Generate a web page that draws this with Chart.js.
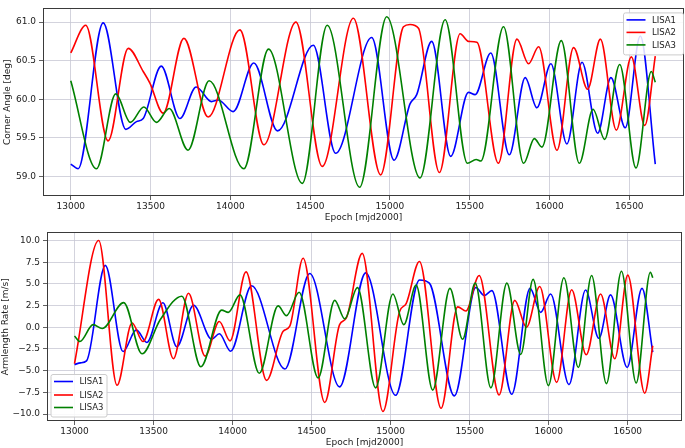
<!DOCTYPE html>
<html>
<head>
<meta charset="utf-8">
<script src="https://cdn.jsdelivr.net/npm/chart.js@4.4.0/dist/chart.umd.min.js"></script>
<style>
  body { margin: 0; background: #fff; overflow: hidden; }
  canvas { position: absolute; left: 0; }
  #angleChart { top: 0; }
  #rateChart { top: 224px; }
</style>
</head>
<body>
<canvas id="angleChart" width="685" height="224"></canvas>
<canvas id="rateChart" width="685" height="224"></canvas>
<script>
// series names and tick labels
const seriesNames = ["LISA1", "LISA2", "LISA3"];
const seriesColors = ["#0000ff", "#ff0000", "#008000"];
const epochTicks = [13000, 13500, 14000, 14500, 15000, 15500, 16000, 16500];
const angleTicks = [59.0, 59.5, 60.0, 60.5, 61.0];
const rateTicks = [-10, -7.5, -5, -2.5, 0, 2.5, 5, 7.5, 10];

// Corner angle [deg]
const angleEpoch1 = [13000, 13046, 13203, 13345, 13412, 13454, 13567, 13684, 13786, 13882, 13924, 14018, 14147, 14296, 14520, 14660, 14886, 15026, 15126, 15168, 15262, 15381, 15492, 15534, 15632, 15748, 15848, 15921, 16009, 16109, 16204, 16302, 16385, 16475, 16569, 16663];
const angle1 = [59.16, 59.10, 60.99, 59.61, 59.71, 59.75, 60.43, 59.75, 60.16, 59.97, 59.99, 59.84, 60.47, 59.59, 60.70, 59.30, 60.80, 59.21, 59.94, 60.06, 60.75, 59.26, 60.09, 60.06, 60.60, 59.28, 60.28, 59.89, 60.46, 59.42, 60.48, 59.56, 60.28, 59.63, 60.82, 59.16];

const angleEpoch2 = [13000, 13094, 13234, 13360, 13454, 13496, 13579, 13709, 13861, 14060, 14210, 14411, 14576, 14771, 14942, 15085, 15126, 15179, 15310, 15440, 15492, 15545, 15680, 15796, 15869, 15932, 16047, 16151, 16239, 16319, 16419, 16513, 16597, 16663];
const angle2 = [60.60, 60.96, 59.46, 60.66, 60.36, 60.21, 59.82, 60.79, 59.77, 60.90, 59.41, 61.00, 59.13, 61.05, 59.02, 60.94, 60.97, 60.92, 59.05, 60.85, 60.75, 60.74, 59.17, 60.78, 60.46, 60.68, 59.34, 60.67, 60.13, 60.78, 59.60, 60.55, 59.66, 60.56];

const angleEpoch3 = [13000, 13161, 13282, 13374, 13458, 13537, 13617, 13735, 13867, 14085, 14239, 14451, 14607, 14810, 14980, 15189, 15346, 15486, 15540, 15570, 15712, 15838, 15905, 15953, 16074, 16187, 16273, 16346, 16440, 16542, 16638, 16663];
const angle3 = [60.24, 59.10, 60.07, 59.70, 59.90, 59.70, 59.88, 59.34, 60.24, 59.10, 60.65, 58.91, 60.96, 58.86, 61.07, 58.98, 61.03, 59.17, 59.22, 59.20, 60.94, 59.17, 59.49, 59.38, 60.76, 59.17, 59.87, 59.48, 60.45, 59.11, 60.36, 60.22];

// Armlength rate [m/s]
const rateEpoch1 = [13000, 13038, 13076, 13195, 13307, 13391, 13458, 13559, 13647, 13753, 13868, 13916, 13988, 14120, 14331, 14488, 14677, 14842, 15031, 15182, 15245, 15403, 15539, 15592, 15640, 15766, 15882, 15949, 16012, 16128, 16233, 16317, 16391, 16496, 16590, 16658];
const rate1 = [-4.29, -4.10, -3.88, 7.13, -2.80, -0.30, -1.75, 2.83, -2.24, 2.54, -1.38, -0.75, -2.76, 4.78, -4.81, 6.19, -6.87, 6.27, -7.84, 5.45, 5.08, -7.91, 4.59, 3.66, 4.22, -7.71, 4.48, 1.72, 3.84, -6.61, 4.29, -1.27, 3.73, -4.63, 4.48, -2.87];

const rateEpoch2 = [13000, 13153, 13269, 13364, 13433, 13532, 13626, 13721, 13826, 13916, 13984, 14085, 14215, 14320, 14362, 14446, 14583, 14677, 14719, 14820, 14951, 15056, 15098, 15182, 15319, 15424, 15476, 15560, 15686, 15785, 15859, 15943, 16050, 16145, 16237, 16328, 16418, 16500, 16607, 16658];
const rate2 = [-4.18, 10.0, -6.68, 0.49, -1.64, 3.21, -3.62, 3.92, -3.32, 0.67, -1.57, 6.38, -6.12, -0.45, 0.12, 7.95, -8.66, 0.30, 1.05, 8.51, -9.70, 1.79, 2.73, 7.58, -9.33, 2.35, 1.87, 5.97, -7.80, 3.10, 0.00, 4.70, -6.35, 4.33, -3.17, 3.84, -3.62, 6.01, -7.60, -2.13];

const rateEpoch3 = [13000, 13034, 13118, 13175, 13311, 13427, 13542, 13679, 13799, 13931, 13973, 14047, 14169, 14288, 14341, 14421, 14541, 14646, 14709, 14790, 14905, 15014, 15083, 15161, 15266, 15375, 15455, 15535, 15634, 15735, 15823, 15901, 15998, 16096, 16187, 16271, 16365, 16460, 16553, 16643, 16658];
const rate3 = [-1.00, -1.64, 0.30, -0.15, 2.84, -3.06, 0.86, 3.58, -4.55, 1.98, 1.72, 3.73, -5.30, 2.46, 1.34, 4.03, -5.83, 3.10, 0.97, 4.57, -6.98, 3.84, 0.30, 4.85, -7.24, 4.48, -1.38, 5.08, -6.98, 5.08, -3.13, 5.52, -6.72, 5.71, -4.63, 5.97, -6.49, 6.46, -6.42, 6.34, 5.71];

const FONT = "DejaVu Sans";
const TEXT = "#222";

function zip(xs, ys) {
  return xs.map((x, i) => ({ x: x, y: ys[i] }));
}

function makeDatasets(pairs) {
  return pairs.map((p, i) => ({
    label: seriesNames[i],
    data: zip(p[0], p[1]),
    borderColor: seriesColors[i],
    borderWidth: 1.6,
    pointRadius: 0,
    fill: false,
    cubicInterpolationMode: "monotone",
    order: 3 - i // matplotlib draws later lines on top
  }));
}

function fmtTick(v) {
  const s = Number(v).toFixed(1);
  return v < 0 ? "\u2212" + s.slice(1) : s;
}

// axes frame + legend box drawn inside the plot
const framePlugin = {
  id: "frame",
  afterDatasetsDraw(chart, args, opts) {
    const ctx = chart.ctx;
    const a = chart.chartArea;
    ctx.save();
    ctx.strokeStyle = "#3a3a3a";
    ctx.lineWidth = 1;
    ctx.strokeRect(Math.round(a.left) + 0.5, Math.round(a.top) + 0.5,
      Math.round(a.right - a.left) - 1, Math.round(a.bottom - a.top) - 1);

    const lg = opts.legend;
    const bx = lg.corner === "tr" ? a.right - lg.w - lg.dx : a.left + lg.dx;
    const by = lg.corner === "tr" ? a.top + lg.dy : a.bottom - lg.h - lg.dy;
    ctx.fillStyle = "rgba(255,255,255,0.85)";
    ctx.strokeStyle = "#cccccc";
    ctx.beginPath();
    ctx.roundRect(bx + 0.5, by + 0.5, lg.w, lg.h, 2);
    ctx.fill();
    ctx.stroke();
    ctx.font = lg.size + "px '" + FONT + "'";
    ctx.textBaseline = "middle";
    ctx.textAlign = "left";
    seriesNames.forEach((name, i) => {
      const yy = by + lg.rows[i];
      ctx.strokeStyle = seriesColors[i];
      ctx.lineWidth = 1.6;
      ctx.beginPath();
      ctx.moveTo(bx + 3.5, yy);
      ctx.lineTo(bx + 22.5, yy);
      ctx.stroke();
      ctx.fillStyle = TEXT;
      ctx.fillText(name, bx + 29, yy + 0.5);
    });
    ctx.restore();
  }
};

function makeChart(id, datasets, cfg) {
  return new Chart(document.getElementById(id).getContext("2d"), {
    type: "line",
    data: { datasets: datasets },
    plugins: [framePlugin],
    options: {
      responsive: false,
      devicePixelRatio: 1,
      animation: false,
      events: [],
      layout: { padding: cfg.padding },
      plugins: {
        legend: { display: false },
        tooltip: { enabled: false },
        frame: { legend: cfg.legend }
      },
      scales: {
        x: {
          type: "linear",
          min: 12826,
          max: 16843,
          afterBuildTicks: s => { s.ticks = epochTicks.map(v => ({ value: v })); },
          afterFit: s => { s.height = cfg.xHeight; },
          border: { display: false },
          grid: { color: "#c8c8d4", lineWidth: 0.8, tickLength: 4, tickColor: "#3a3a3a" },
          ticks: { font: { family: FONT, size: 9 }, color: TEXT, padding: 1, maxRotation: 0, callback: v => String(v) },
          title: { display: true, text: "Epoch [mjd2000]", font: { family: FONT, size: 9 }, color: TEXT, padding: { top: 0, bottom: cfg.xTitlePad } }
        },
        y: {
          min: cfg.yMin,
          max: cfg.yMax,
          afterBuildTicks: s => { s.ticks = cfg.yTicks.map(v => ({ value: v })); },
          afterFit: s => { s.width = cfg.yWidth; },
          border: { display: false },
          grid: { color: "#c8c8d4", lineWidth: 0.8, tickLength: 4, tickColor: "#3a3a3a" },
          ticks: { font: { family: FONT, size: 9 }, color: TEXT, padding: 3, callback: v => fmtTick(v) },
          title: { display: true, text: cfg.yTitle, font: { family: FONT, size: 9 }, color: TEXT, padding: { top: cfg.yTitlePad, bottom: 0 } }
        }
      }
    }
  });
}

makeChart("angleChart",
  makeDatasets([[angleEpoch1, angle1], [angleEpoch2, angle2], [angleEpoch3, angle3]]),
  {
    padding: { left: 0, right: 1, top: 1, bottom: 0 },
    xHeight: 28, xTitlePad: 1,
    yWidth: 43, yTitlePad: 2,
    yMin: 58.746, yMax: 61.178, yTicks: angleTicks,
    yTitle: "Corner Angle [deg]",
    legend: { corner: "tr", w: 60, h: 42, dx: 1, dy: 4, size: 8.5, rows: [7.5, 20, 32.5] }
  });

makeChart("rateChart",
  makeDatasets([[rateEpoch1, rate1], [rateEpoch2, rate2], [rateEpoch3, rate3]]),
  {
    padding: { left: 0, right: 3, top: 3, bottom: 0 },
    xHeight: 27, xTitlePad: 0,
    yWidth: 47, yTitlePad: 0,
    yMin: -10.8, yMax: 10.93, yTicks: rateTicks,
    yTitle: "Armlength Rate [m/s]",
    legend: { corner: "bl", w: 56, h: 42.5, dx: 3.5, dy: 4.5, size: 8.5, rows: [7.5, 21, 33.5] }
  });
</script>
</body>
</html>
